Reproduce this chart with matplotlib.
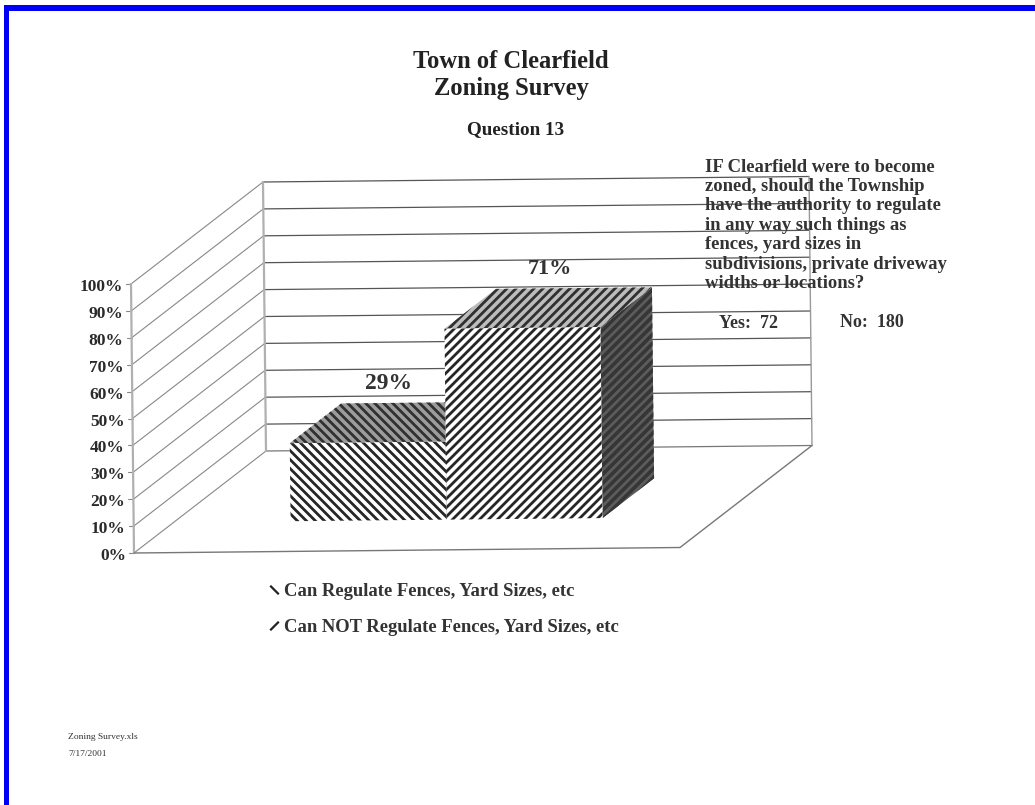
import matplotlib
matplotlib.use("Agg")
import matplotlib.pyplot as plt
import numpy as np
from matplotlib.patches import Polygon, Rectangle

# ---- data ----
title_lines = ["Town of Clearfield", "Zoning Survey"]
subtitle = "Question 13"
categories = ["Can Regulate Fences, Yard Sizes, etc", "Can NOT Regulate Fences, Yard Sizes, etc"]
values = [29, 71]
y_ticks = [0, 10, 20, 30, 40, 50, 60, 70, 80, 90, 100]
question_lines = ["IF Clearfield were to become", "zoned, should the Township",
                  "have the authority to regulate", "in any way such things as",
                  "fences, yard sizes in", "subdivisions, private driveway",
                  "widths or locations?"]
yes_label = "Yes:  72"
no_label = "No:  180"
footer_lines = ["Zoning Survey.xls", "7/17/2001"]

# ---- layout ----
FONT = "Liberation Serif"
W, H = 1035, 805
ORIGIN = (134.0, 553.0)
RIGHT = (546.0, -5.5)
DEPTH = (132.0, -102.0)
UP = (-0.03, -2.69)
N_SPAN = 3.5
X_LEFT = -1.25
D0, D1 = 0.30, 0.69
BAR_W = 1.0
LABEL_DX = [-5, 2]
LABEL_SIZE = [17, 16]
HATCH_STEP = 9.0
HATCH_DIR = [1, -1]      # +1: falling to the right, -1: rising to the right
TOP_BG = ["#9c9c9c", "#bcbcbc"]

def proj(x, d, pct):
    u = (x - X_LEFT) / N_SPAN
    return (ORIGIN[0] + RIGHT[0] * u + DEPTH[0] * d + UP[0] * pct,
            ORIGIN[1] + RIGHT[1] * u + DEPTH[1] * d + UP[1] * pct)

XA, XB = X_LEFT, X_LEFT + N_SPAN

fig = plt.figure(figsize=(W / 100, H / 100), dpi=100)
ax = fig.add_axes([0, 0, 1, 1])
ax.set_xlim(0, W)
ax.set_ylim(H, 0)
ax.axis("off")

# blue scan border
ax.add_patch(Rectangle((3.5, 5.5), W, 5.5, color="#0000f5", lw=0, zorder=10))
ax.add_patch(Rectangle((3.5, 5.5), 5.5, H, color="#0000f5", lw=0, zorder=10))

def line(a, b, lw=1.0, c="#777777", z=1):
    ax.plot([a[0], b[0]], [a[1], b[1]], color=c, lw=lw, zorder=z, solid_capstyle="round")

def hatched(points, face, ink, direction, lw, z):
    poly = Polygon(points, facecolor=face, edgecolor="none", lw=0, zorder=z)
    ax.add_patch(poly)
    xs = [p[0] for p in points]
    ys = [p[1] for p in points]
    span = max(ys) - min(ys) + 2
    start = min(xs) - span - HATCH_STEP
    for x0 in np.arange(start, max(xs) + span + HATCH_STEP, HATCH_STEP):
        y0, y1 = min(ys) - 1, max(ys) + 1
        x1 = x0 + direction * (y1 - y0)
        ln, = ax.plot([x0, x1], [y0, y1], color=ink, lw=lw, zorder=z + 0.1, solid_capstyle="butt")
        ln.set_clip_path(poly)

# walls and floor
for t in y_ticks:
    p = proj(XA, 0, t)
    line(p, proj(XA, 1, t), lw=0.8, c="#888888")
    line(proj(XA, 1, t), proj(XB, 1, t), lw=0.9, c="#555555" if t else "#777777")
    line((p[0] - 5, p[1]), p, lw=0.8, c="#888888")
    ax.text(p[0] - 8, p[1] + 3, f"{t}%", ha="right", va="center",
            family=FONT, weight="bold", fontsize=12.5, color="#2a2a2a", zorder=5)
line(proj(XA, 0, 0), proj(XA, 0, 100), lw=1.6, c="#b0b0b0")
line(proj(XA, 1, 0), proj(XA, 1, 100), lw=1.6, c="#b0b0b0")
line(proj(XB, 1, 0), proj(XB, 1, 100), lw=1.0, c="#999999")
line(proj(XA, 0, 0), proj(XB, 0, 0), lw=1.0, c="#777777")
line(proj(XB, 0, 0), proj(XB, 1, 0), lw=1.0, c="#777777")

# 3-D bars
for i, v in enumerate(values):
    l, r = i - BAR_W / 2, i + BAR_W / 2
    front = [proj(l, D0, 0), proj(r, D0, 0), proj(r, D0, v), proj(l, D0, v)]
    top = [proj(l, D0, v), proj(r, D0, v), proj(r, D1, v), proj(l, D1, v)]
    side = [proj(r, D0, 0), proj(r, D1, 0), proj(r, D1, v), proj(r, D0, v)]
    hatched(side, "#5c5c5c", "#363636", -1, 2.6, 2)
    hatched(top, TOP_BG[i], "#303030", HATCH_DIR[i], 2.0, 3)
    hatched(front, "white", "#262626", HATCH_DIR[i], 2.0, 4)
    cx, cy = proj(i, (D0 + D1) / 2, v)
    ax.text(cx + LABEL_DX[i], cy - 39, f"{v}%", ha="center", va="center", family=FONT, weight="bold",
            fontsize=LABEL_SIZE[i], color="#333333", zorder=6)

# titles
for s, y in zip(title_lines, [62, 89]):
    ax.text(511, y, s, ha="center", va="center", family=FONT, weight="bold", fontsize=17.7, color="#222222")
ax.text(516, 130, subtitle, ha="center", va="center", family=FONT, weight="bold", fontsize=13.8, color="#222222")

# question box
for k, s in enumerate(question_lines):
    ax.text(705, 167 + k * 19.4, s, ha="left", va="center", family=FONT, weight="bold",
            fontsize=13.4, color="#333333", zorder=6)
ax.text(719, 323, yes_label, ha="left", va="center", family=FONT, weight="bold", fontsize=13, color="#333333", zorder=6)
ax.text(840, 322, no_label, ha="left", va="center", family=FONT, weight="bold", fontsize=13, color="#333333", zorder=6)

# legend
for i, (s, y) in enumerate(zip(categories, [591, 627])):
    ax.text(284, y, s, ha="left", va="center", family=FONT, weight="bold", fontsize=13.4, color="#333333")
    dy = 3.5 if i == 0 else -3.5
    ax.plot([271, 278], [y - 1 - dy, y - 1 + dy], color="#222222", lw=1.6)

# footer
for s, y in zip(footer_lines, [737, 754]):
    ax.text(68, y, s, ha="left", va="center", family=FONT, fontsize=6.8, color="#333333")

fig.savefig("out.png", dpi=100, facecolor="white")
